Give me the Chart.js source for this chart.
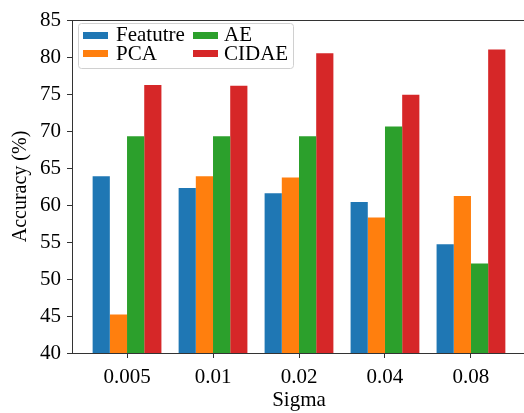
<!DOCTYPE html>
<html>
<head>
<meta charset="utf-8">
<script src="https://cdn.jsdelivr.net/npm/chart.js@4/dist/chart.umd.min.js"></script>
<style>
  html, body { margin: 0; padding: 0; background: #fff; overflow: hidden; }
  #wrap { position: absolute; left: 0; top: 0; width: 530px; height: 413px; }
</style>
</head>
<body>
<div id="wrap"><canvas id="chart"></canvas></div>
<script>
// Data
const sigmas = ["0.005", "0.01", "0.02", "0.04", "0.08"];
const featutre = [63.9, 62.3, 61.6, 60.4, 54.7];
const pca = [45.2, 63.9, 63.7, 58.3, 61.2];
const ae = [69.3, 69.3, 69.3, 70.6, 52.1];
const cidae = [76.2, 76.1, 80.5, 74.9, 81.0];
const yTicks = [40, 45, 50, 55, 60, 65, 70, 75, 80, 85];

const FONT = "'Liberation Serif', 'Times New Roman', serif";

function toPoints(values) {
  return values.map((v, i) => ({ x: i, y: v }));
}

// matplotlib style legend, 2 columns, column-major order
const legendPlugin = {
  id: "mplLegend",
  afterDraw(chart) {
    const ctx = chart.ctx;
    const ds = chart.data.datasets;
    ctx.save();
    // top frame line
    ctx.strokeStyle = "#333";
    ctx.lineWidth = 1;
    ctx.beginPath();
    ctx.moveTo(chart.chartArea.left, chart.chartArea.top + 0.5);
    ctx.lineTo(chart.chartArea.right, chart.chartArea.top + 0.5);
    ctx.stroke();

    // legend box
    ctx.fillStyle = "rgba(255,255,255,0.8)";
    ctx.strokeStyle = "#d0d0d0";
    ctx.beginPath();
    ctx.roundRect(78.5, 23.5, 215, 45, 3);
    ctx.fill();
    ctx.stroke();

    const cols = [{ sx: 83, tx: 116 }, { sx: 193, tx: 224 }];
    const rows = [{ sy: 32, ty: 41 }, { sy: 50, ty: 59.5 }];
    ctx.font = "21px " + FONT;
    ctx.textBaseline = "alphabetic";
    ctx.textAlign = "left";
    ds.forEach((d, i) => {
      const c = cols[Math.floor(i / 2)];
      const r = rows[i % 2];
      ctx.fillStyle = d.backgroundColor;
      ctx.fillRect(c.sx, r.sy, 25, 7);
      ctx.fillStyle = "#000";
      ctx.fillText(d.label, c.tx, r.ty);
    });
    ctx.restore();
  },
};

new Chart(document.getElementById("chart"), {
  type: "bar",
  data: {
    datasets: [
      { label: "Featutre", data: toPoints(featutre), backgroundColor: "#1f77b4" },
      { label: "PCA", data: toPoints(pca), backgroundColor: "#ff7f0e" },
      { label: "AE", data: toPoints(ae), backgroundColor: "#2ca02c" },
      { label: "CIDAE", data: toPoints(cidae), backgroundColor: "#d62728" },
    ],
  },
  options: {
    responsive: true,
    maintainAspectRatio: false,
    animation: false,
    layout: { padding: { top: 20, right: 4, left: 0, bottom: 0 } },
    datasets: {
      bar: { categoryPercentage: 0.8, barPercentage: 1.0, borderWidth: 0 },
    },
    plugins: {
      legend: { display: false },
      tooltip: { enabled: false },
    },
    scales: {
      x: {
        type: "linear",
        min: -0.64,
        max: 4.64,
        offset: false,
        afterBuildTicks: (scale) => {
          scale.ticks = sigmas.map((s, i) => ({ value: i }));
        },
        afterFit: (scale) => {
          scale.height = 60;
        },
        grid: {
          display: true,
          offset: false,
          drawOnChartArea: false,
          drawTicks: true,
          tickLength: 5,
          color: "#333",
        },
        border: { display: true, color: "#333", width: 1 },
        ticks: {
          callback: (v) => sigmas[v],
          autoSkip: false,
          maxRotation: 0,
          padding: 7,
          color: "#000",
          font: { family: FONT, size: 21 },
        },
        title: {
          display: true,
          text: "Sigma",
          color: "#000",
          padding: { top: 0, bottom: 0 },
          font: { family: FONT, size: 21 },
        },
      },
      y: {
        min: 40,
        max: 85,
        afterBuildTicks: (scale) => {
          scale.ticks = yTicks.map((v) => ({ value: v }));
        },
        afterFit: (scale) => {
          scale.width = 72;
        },
        grid: {
          display: true,
          drawOnChartArea: false,
          drawTicks: true,
          tickLength: 5,
          color: "#333",
        },
        border: { display: true, color: "#333", width: 1 },
        ticks: {
          padding: 6,
          color: "#000",
          font: { family: FONT, size: 21 },
        },
        title: {
          display: true,
          text: "Accuracy (%)",
          color: "#000",
          padding: { top: 9, bottom: 0 },
          font: { family: FONT, size: 20 },
        },
      },
    },
  },
  plugins: [legendPlugin],
});
</script>
</body>
</html>
